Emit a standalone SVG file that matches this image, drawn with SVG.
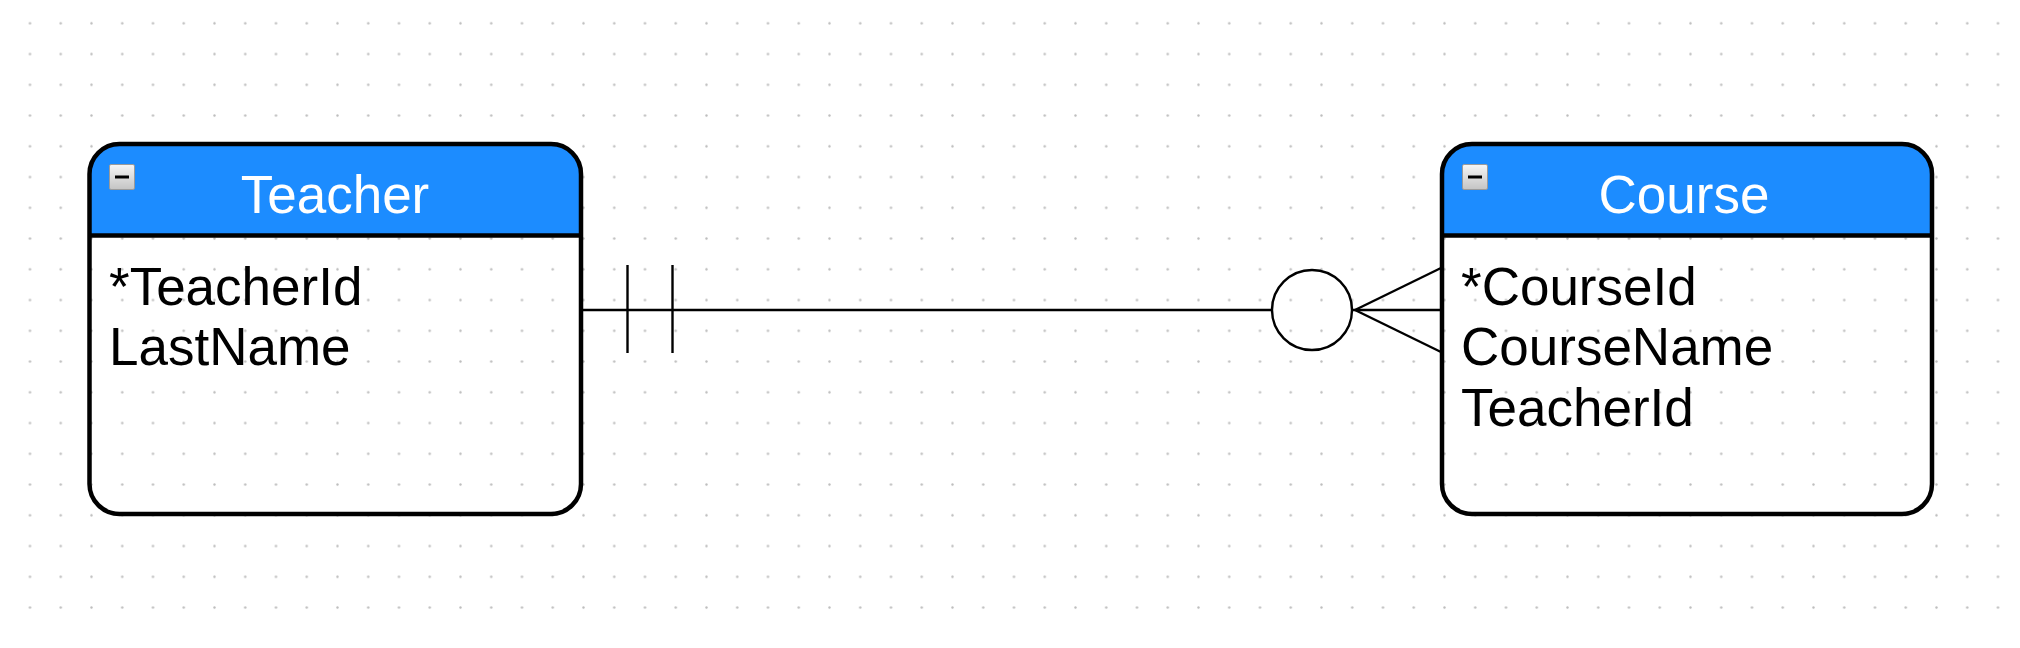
<svg xmlns="http://www.w3.org/2000/svg" width="2020" height="648" viewBox="0 0 2020 648">
<style>
.bg{fill:#ffffff}
.hdr{fill:#1c8cff}
.frame{fill:none;stroke:#000;stroke-width:4.5}
.sep{stroke:#000;stroke-width:4.5}
.title{font-family:"Liberation Sans",Arial,sans-serif;font-size:53px;fill:#ffffff;text-anchor:middle}
.attr{font-family:"Liberation Sans",Arial,sans-serif;font-size:53px;fill:#000}
.icon{fill:url(#iconGrad);stroke:#9a9a9a;stroke-width:1}
.dash{stroke:#000;stroke-width:3}
.conn{fill:none;stroke:#000;stroke-width:2.4}
</style>
<defs>
<pattern id="dots" patternUnits="userSpaceOnUse" x="14.625" y="7.925" width="30.75" height="30.75">
<circle cx="15.375" cy="15.375" r="1.2" fill="#bdbdbd"/>
</pattern>
<linearGradient id="iconGrad" x1="0" y1="0" x2="0" y2="1">
<stop offset="0" stop-color="#f6f6f6"/>
<stop offset="1" stop-color="#c4c4c4"/>
</linearGradient>
</defs>
<rect class="bg" x="0" y="0" width="2020" height="648"/>
<rect x="10" y="0" width="2010" height="625" fill="url(#dots)"/>

<g id="connectors">
<line class="conn" x1="581" y1="310" x2="1272" y2="310"/>
<line class="conn" x1="627.5" y1="265" x2="627.5" y2="353"/>
<line class="conn" x1="672.5" y1="265" x2="672.5" y2="353"/>
<circle class="conn" cx="1312" cy="310" r="40" fill="#fff"/>
<line class="conn" x1="1352" y1="310" x2="1442" y2="310"/>
<line class="conn" x1="1355" y1="310" x2="1442" y2="267.5"/>
<line class="conn" x1="1355" y1="310" x2="1442" y2="352.5"/>
</g>

<g id="teacher">
<path class="hdr" d="M89.5,235.5 V174 A30,30 0 0 1 119.5,144 H551 A30,30 0 0 1 581,174 V235.5 Z"/>
<rect class="frame" x="89.5" y="144" width="491.5" height="370" rx="30" ry="30"/>
<line class="sep" x1="89.5" y1="235.5" x2="581" y2="235.5"/>
<rect class="icon" x="109.5" y="164.5" width="25" height="25" rx="1.5"/>
<line class="dash" x1="115" y1="177" x2="129" y2="177"/>
<text class="title" x="335" y="213">Teacher</text>
<text class="attr" x="109" y="304.5">*TeacherId</text>
<text class="attr" x="109" y="365">LastName</text>
</g>

<g id="course">
<path class="hdr" d="M1442,235.5 V174 A30,30 0 0 1 1472,144 H1902 A30,30 0 0 1 1932,174 V235.5 Z"/>
<rect class="frame" x="1442" y="144" width="490" height="370" rx="30" ry="30"/>
<line class="sep" x1="1442" y1="235.5" x2="1932" y2="235.5"/>
<rect class="icon" x="1462.5" y="164.5" width="25" height="25" rx="1.5"/>
<line class="dash" x1="1468" y1="177" x2="1482" y2="177"/>
<text class="title" x="1684" y="213">Course</text>
<text class="attr" x="1461" y="304.5">*CourseId</text>
<text class="attr" x="1461" y="365">CourseName</text>
<text class="attr" x="1461" y="425.5">TeacherId</text>
</g>
</svg>
